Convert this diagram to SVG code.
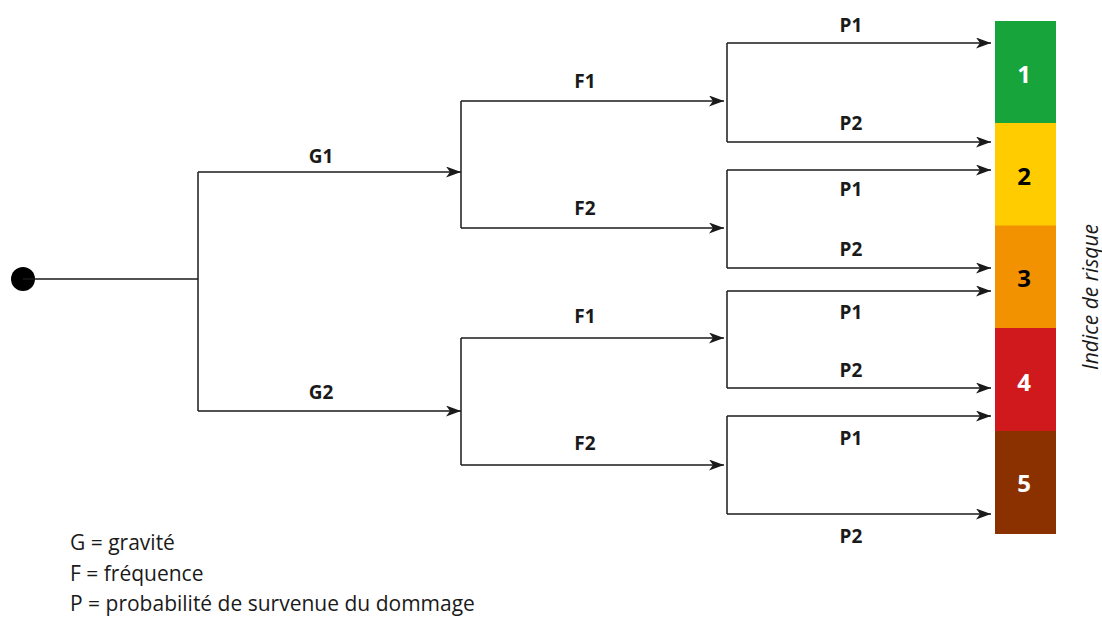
<svg xmlns="http://www.w3.org/2000/svg" width="1102" height="617" viewBox="0 0 1102 617">
  <style>
    .wire { fill: none; stroke: #1a1a1a; stroke-width: 1.5; }
    .arr { marker-end: url(#head); }
    .lbl { font-family: "Open Sans", "Liberation Sans", sans-serif; font-weight: bold; font-size: 19px; fill: #1a1a1a; text-anchor: middle; }
    .num { font-family: "Open Sans", "Liberation Sans", sans-serif; font-weight: bold; font-size: 24px; text-anchor: middle; }
    .legend { font-family: "Open Sans", "Liberation Sans", sans-serif; font-size: 21px; fill: #1a1a1a; }
    .axis { font-family: "Open Sans", "Liberation Sans", sans-serif; font-style: italic; font-size: 21px; fill: #1a1a1a; text-anchor: middle; }
  </style>
  <defs>
    <marker id="head" markerUnits="userSpaceOnUse" markerWidth="15" markerHeight="11" refX="15" refY="5.5" orient="auto">
      <path d="M0,0 L15,5.5 L0,11 L4,5.5 z" fill="#1a1a1a"/>
    </marker>
  </defs>

  <!-- start point -->
  <g id="start">
    <circle cx="23" cy="279" r="12" fill="#000"/>
  </g>

  <!-- tree connectors -->
  <g id="connectors">
    <path class="wire" d="M23,279 H198"/>
    <path class="wire" d="M198,172 V411"/>
    <path class="wire arr" d="M198,172 H461"/>
    <path class="wire arr" d="M198,411 H461"/>

    <path class="wire" d="M461,101 V228"/>
    <path class="wire arr" d="M461,101 H724"/>
    <path class="wire arr" d="M461,228 H724"/>
    <path class="wire" d="M461,338 V465"/>
    <path class="wire arr" d="M461,338 H724"/>
    <path class="wire arr" d="M461,465 H724"/>

    <path class="wire" d="M727,43 V142"/>
    <path class="wire arr" d="M727,43 H991"/>
    <path class="wire arr" d="M727,142 H991"/>
    <path class="wire" d="M727,170 V268"/>
    <path class="wire arr" d="M727,170 H991"/>
    <path class="wire arr" d="M727,268 H991"/>
    <path class="wire" d="M727,291 V388"/>
    <path class="wire arr" d="M727,291 H991"/>
    <path class="wire arr" d="M727,388 H991"/>
    <path class="wire" d="M727,416 V514"/>
    <path class="wire arr" d="M727,416 H991"/>
    <path class="wire arr" d="M727,514 H991"/>
  </g>

  <!-- branch labels -->
  <g id="branch-labels">
    <text class="lbl" x="321" y="163">G1</text>
    <text class="lbl" x="321" y="399">G2</text>
    <text class="lbl" x="585" y="88">F1</text>
    <text class="lbl" x="585" y="215">F2</text>
    <text class="lbl" x="585" y="323">F1</text>
    <text class="lbl" x="585" y="450">F2</text>
    <text class="lbl" x="851" y="32">P1</text>
    <text class="lbl" x="851" y="130">P2</text>
    <text class="lbl" x="851" y="196">P1</text>
    <text class="lbl" x="851" y="256">P2</text>
    <text class="lbl" x="851" y="319">P1</text>
    <text class="lbl" x="851" y="377">P2</text>
    <text class="lbl" x="851" y="445">P1</text>
    <text class="lbl" x="851" y="543">P2</text>
  </g>

  <!-- risk index scale -->
  <g id="risk-1">
    <rect x="995" y="21" width="61" height="103" fill="#17a43a"/>
    <text class="num" x="1024" y="83" fill="#ffffff">1</text>
  </g>
  <g id="risk-2">
    <rect x="995" y="123" width="61" height="103" fill="#ffcc00"/>
    <text class="num" x="1024" y="185" fill="#000000">2</text>
  </g>
  <g id="risk-3">
    <rect x="995" y="225.5" width="61" height="103" fill="#f39200"/>
    <text class="num" x="1024" y="287" fill="#000000">3</text>
  </g>
  <g id="risk-4">
    <rect x="995" y="328" width="61" height="103" fill="#d0191d"/>
    <text class="num" x="1024" y="391" fill="#ffffff">4</text>
  </g>
  <g id="risk-5">
    <rect x="995" y="431" width="61" height="103" fill="#8b3100"/>
    <text class="num" x="1024" y="492" fill="#ffffff">5</text>
  </g>
  <g id="scale-title">
    <text class="axis" transform="translate(1098,297) rotate(-90)">Indice de risque</text>
  </g>

  <!-- legend -->
  <g id="legend">
    <text class="legend" x="70" y="550">G = gravité</text>
    <text class="legend" x="70" y="581">F = fréquence</text>
    <text class="legend" x="70" y="611">P = probabilité de survenue du dommage</text>
  </g>
</svg>
